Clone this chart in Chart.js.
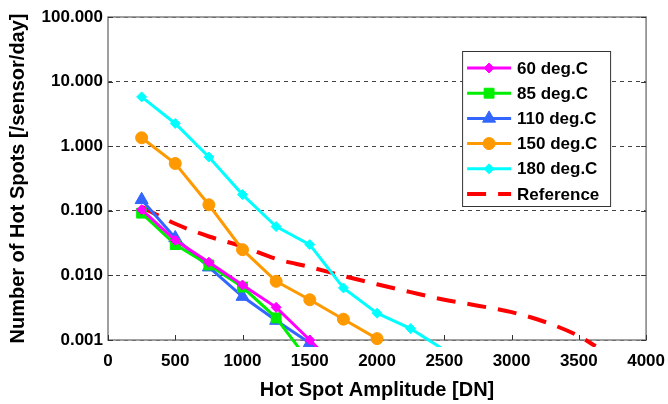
<!DOCTYPE html>
<html>
<head>
<meta charset="utf-8">
<script src="https://cdn.jsdelivr.net/npm/chart.js@4.4.1/dist/chart.umd.min.js"></script>
<style>
  html, body { margin: 0; padding: 0; background: #fff; }
  #wrap { width: 668px; height: 404px; }
</style>
</head>
<body>
<div id="wrap"><canvas id="hotSpotChart" width="668" height="404"></canvas></div>
<script>
// Hot spot rate vs amplitude
const amplitudes = [250, 500, 750, 1000, 1250, 1500, 1750, 2000, 2250, 2500];
const seriesLabels = ['60 deg.C', '85 deg.C', '110 deg.C', '150 deg.C', '180 deg.C', 'Reference'];

const hot60 = [0.104, 0.035, 0.016, 0.0071, 0.0032, 0.001, 0.0003];
const hot85 = [0.092, 0.030, 0.0145, 0.0066, 0.0022, 0.00045];
const hot110 = [0.148, 0.038, 0.0134, 0.0047, 0.0020, 0.0009];
const hot150 = [1.35, 0.54, 0.124, 0.025, 0.0081, 0.0042, 0.0021, 0.00105];
const hot180 = [5.8, 2.25, 0.68, 0.178, 0.057, 0.030, 0.0064, 0.0026, 0.0015, 0.0007];

const refAmplitudes = [250, 500, 750, 1000, 1250, 1500, 1750, 2000, 2250, 2500, 2750, 3000, 3250, 3500, 3625];
const refCounts = [0.115, 0.063, 0.040, 0.028, 0.018, 0.0135, 0.0098, 0.0073, 0.0055, 0.0042, 0.0034, 0.0027, 0.0019, 0.00115, 0.0008];

const xTicks = [0, 500, 1000, 1500, 2000, 2500, 3000, 3500, 4000];
const yTicks = [0.001, 0.01, 0.1, 1, 10, 100];

const FONT = '"Liberation Sans", Arial, sans-serif';

function toPoints(xs, ys) {
    return ys.map((y, i) => ({ x: xs[i], y: y }));
}

// Marker series share the same look apart from colour and symbol
function markerSeries(label, values, color, pointStyle, radius) {
    return {
        label: label,
        data: toPoints(amplitudes, values),
        borderColor: color,
        backgroundColor: color,
        borderWidth: 3,
        pointStyle: pointStyle,
        pointRadius: radius,
        pointBorderWidth: 1,
        pointHoverRadius: radius,
        tension: 0,
        clip: { left: 0, top: 0, right: 0, bottom: 7 }
    };
}

// Grey frame round the plot plus small inward tick marks
const plotFrame = {
    id: 'plotFrame',
    beforeDatasetsDraw(chart) {
        const { ctx, chartArea: a, scales } = chart;
        ctx.save();
        ctx.setLineDash([]);
        ctx.strokeStyle = '#808080';
        ctx.lineWidth = 1.5;
        ctx.strokeRect(a.left, a.top, a.width, a.height);

        ctx.strokeStyle = '#333';
        ctx.lineWidth = 1;
        ctx.beginPath();
        scales.x.ticks.forEach(t => {
            const px = Math.round(scales.x.getPixelForValue(t.value)) + 0.5;
            ctx.moveTo(px, a.bottom);
            ctx.lineTo(px, a.bottom - 5);
        });
        scales.y.ticks.forEach(t => {
            const py = Math.round(scales.y.getPixelForValue(t.value)) + 0.5;
            ctx.moveTo(a.left, py);
            ctx.lineTo(a.left + 5, py);
            ctx.moveTo(a.right, py);
            ctx.lineTo(a.right - 5, py);
        });
        ctx.stroke();
        ctx.restore();
    }
};

// Boxed legend inside the plot, line sample with marker like the original
const boxLegend = {
    id: 'boxLegend',
    afterDatasetsDraw(chart) {
        const { ctx, chartArea: a } = chart;
        const left = a.right - 184;
        const top = a.top + 34;
        const w = 148, h = 155;
        ctx.save();
        ctx.fillStyle = '#fff';
        ctx.fillRect(left, top, w, h);
        ctx.strokeStyle = '#333';
        ctx.lineWidth = 1;
        ctx.strokeRect(left + 0.5, top + 0.5, w, h);

        ctx.font = 'bold 17px ' + FONT;
        ctx.textBaseline = 'middle';
        ctx.textAlign = 'left';
        chart.data.datasets.forEach((ds, i) => {
            const y = top + 17 + i * 25.2;
            ctx.strokeStyle = ds.borderColor;
            ctx.lineWidth = ds.borderWidth;
            ctx.setLineDash(ds.borderDash || []);
            ctx.beginPath();
            ctx.moveTo(left + 5, y);
            ctx.lineTo(left + 49, y);
            ctx.stroke();
            ctx.setLineDash([]);
            if (ds.pointRadius > 0) {
                ctx.fillStyle = ds.backgroundColor;
                ctx.lineWidth = 1;
                Chart.helpers.drawPoint(ctx, {
                    pointStyle: ds.pointStyle,
                    radius: ds.pointRadius,
                    borderWidth: 1,
                    rotation: 0
                }, left + 27, y);
            }
            ctx.fillStyle = '#000';
            ctx.fillText(ds.label, left + 55, y + 1);
        });
        ctx.restore();
    }
};

const tickFont = { family: FONT, size: 17, weight: 'bold' };
const titleFont = { family: FONT, size: 20, weight: 'bold' };

new Chart(document.getElementById('hotSpotChart'), {
    type: 'line',
    data: {
        datasets: [
            markerSeries(seriesLabels[0], hot60, '#ff00ff', 'rectRot', 5),
            markerSeries(seriesLabels[1], hot85, '#00ee00', 'rect', 7),
            markerSeries(seriesLabels[2], hot110, '#3366ff', 'triangle', 7.5),
            markerSeries(seriesLabels[3], hot150, '#ff9900', 'circle', 6),
            markerSeries(seriesLabels[4], hot180, '#00ffff', 'rectRot', 5),
            {
                label: seriesLabels[5],
                data: toPoints(refAmplitudes, refCounts),
                borderColor: '#ff0000',
                backgroundColor: '#ff0000',
                borderWidth: 4,
                borderDash: [19, 12],
                pointRadius: 0,
                pointHoverRadius: 0,
                cubicInterpolationMode: 'monotone',
                clip: { left: 0, top: 0, right: 0, bottom: 7 }
            }
        ]
    },
    options: {
        responsive: false,
        animation: false,
        devicePixelRatio: 1,
        layout: { padding: { left: 6, right: 20, top: 17, bottom: 2 } },
        scales: {
            x: {
                type: 'linear',
                min: 0,
                max: 4000,
                afterBuildTicks: axis => { axis.ticks = xTicks.map(v => ({ value: v })); },
                grid: { display: false },
                border: { display: false },
                ticks: {
                    color: '#000',
                    font: tickFont,
                    padding: 3,
                    maxRotation: 0,
                    autoSkip: false,
                    callback: v => String(v)
                },
                title: {
                    display: true,
                    text: 'Hot Spot Amplitude [DN]',
                    color: '#000',
                    font: titleFont,
                    padding: { top: 0, bottom: 0 }
                },
                afterFit: s => { s.height = 62; }
            },
            y: {
                type: 'logarithmic',
                min: 0.001,
                max: 100,
                afterBuildTicks: axis => { axis.ticks = yTicks.map(v => ({ value: v })); },
                grid: { color: '#444', lineWidth: 1, drawTicks: false },
                border: { display: false, dash: [4, 4] },
                ticks: {
                    color: '#000',
                    font: tickFont,
                    padding: 5,
                    callback: v => Number(v).toFixed(3)
                },
                title: {
                    display: true,
                    text: 'Number of Hot Spots [/sensor/day]',
                    color: '#000',
                    font: titleFont,
                    padding: { top: 0, bottom: 0 }
                },
                afterFit: s => { s.width = 102; }
            }
        },
        plugins: {
            legend: { display: false },
            tooltip: { enabled: false }
        }
    },
    plugins: [plotFrame, boxLegend]
});
</script>
</body>
</html>
